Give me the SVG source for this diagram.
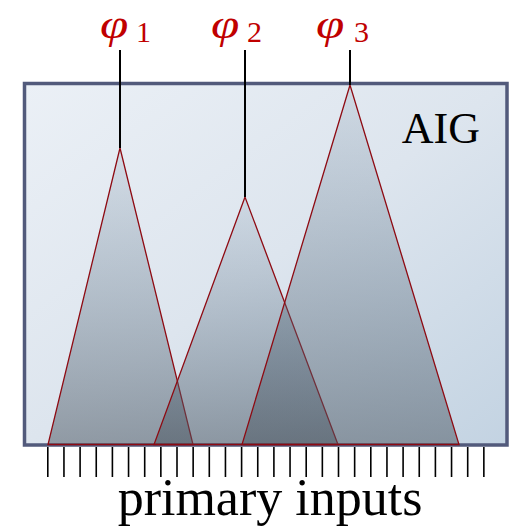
<svg xmlns="http://www.w3.org/2000/svg" width="512" height="526" viewBox="0 0 512 526">
<defs>
<linearGradient id="bg" x1="0" y1="0" x2="1" y2="1">
<stop offset="0" stop-color="#ebf0f6"/>
<stop offset="0.5" stop-color="#dde5ee"/>
<stop offset="1" stop-color="#c3d3e2"/>
</linearGradient>
<linearGradient id="tri" x1="0" y1="0" x2="0" y2="1">
<stop offset="0" stop-color="#5d7a94" stop-opacity="0.14"/>
<stop offset="1" stop-color="#4a5560" stop-opacity="0.52"/>
</linearGradient>
<style>
.tri{fill:url(#tri);stroke:#8e0a12;stroke-width:1.3;stroke-linejoin:miter}
.out{stroke:#000;stroke-width:2;fill:none}
.tick{stroke:#000;stroke-width:1.6}
.phi{font-family:"Liberation Serif","DejaVu Serif",serif;fill:#c00000}
.lbl{font-family:"Liberation Serif","DejaVu Serif",serif;fill:#000}
</style>
</defs>
<g id="aig">
<rect x="24.5" y="83.5" width="482.5" height="361.5" fill="url(#bg)" stroke="#525a7b" stroke-width="3.5"/>
<text class="lbl" x="480" y="143" font-size="44" text-anchor="end">AIG</text>
</g>
<g id="cone1">
<polygon class="tri" points="120,148 48,444.5 193,444.5"/>
</g>
<g id="cone2">
<polygon class="tri" points="245,197 154,444.5 338,444.5"/>
</g>
<g id="cone3">
<polygon class="tri" points="350,85 242,444.5 459,444.5"/>
</g>
<g id="connectors">
<line class="out" x1="120" y1="50" x2="120" y2="148"/>
<line class="out" x1="245" y1="50" x2="245" y2="197"/>
<line class="out" x1="350" y1="50" x2="350" y2="85"/>
<g id="inputs">
<path class="tick" d="M47.8 447V477M63.95 447V477M80.1 447V477M96.25 447V477M112.4 447V477M128.55 447V477M144.7 447V477M160.85 447V477M177 447V477M193.15 447V477M209.3 447V477M225.45 447V477M241.6 447V477M257.75 447V477M273.9 447V477M290.05 447V477M306.2 447V477M322.35 447V477M338.5 447V477M354.65 447V477M370.8 447V477M386.95 447V477M403.1 447V477M419.25 447V477M435.4 447V477M451.55 447V477M467.7 447V477M483.85 447V477"/>
</g>
</g>
<g id="labels">
<text class="phi" transform="translate(100,38) scale(1.22,1)" font-size="42" font-style="italic">φ</text>
<text class="phi" x="136" y="42" font-size="30">1</text>
<text class="phi" transform="translate(211,38) scale(1.22,1)" font-size="42" font-style="italic">φ</text>
<text class="phi" x="247" y="42" font-size="30">2</text>
<text class="phi" transform="translate(316,38) scale(1.22,1)" font-size="42" font-style="italic">φ</text>
<text class="phi" x="354" y="42" font-size="30">3</text>
<text class="lbl" x="270" y="515" font-size="52" text-anchor="middle">primary inputs</text>
</g>
</svg>
